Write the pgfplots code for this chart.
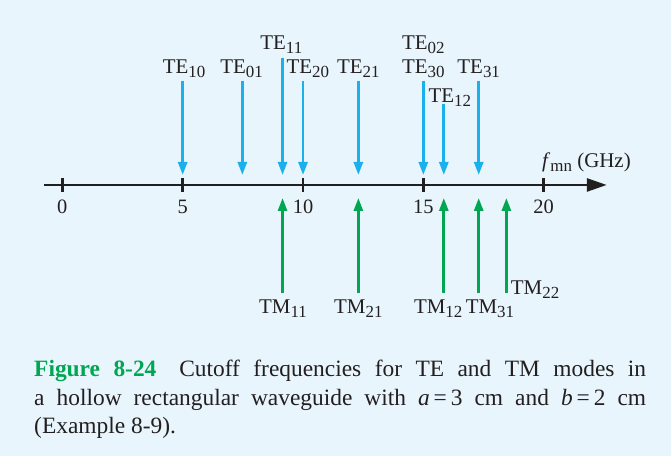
\documentclass[border=0pt]{standalone}
\usepackage{fontspec}
\setmainfont{Liberation Serif}
\usepackage{pgfplots}
\pgfplotsset{compat=1.18}
\usetikzlibrary{arrows.meta}
\definecolor{bgblue}{HTML}{E8F5FC}
\definecolor{teblue}{HTML}{1AAFED}
\definecolor{tmgreen}{HTML}{00A651}
\definecolor{axblack}{HTML}{231F20}
\newcommand\sub[1]{\raisebox{-4bp}{\fontsize{17}{17}\selectfont #1}}

\begin{document}
\begin{tikzpicture}
\begin{axis}[
  x=24.07bp, y=1bp,
  xmin=-2.59, xmax=25.29, ymin=-271, ymax=185,
  axis lines=none, clip=false, scale only axis,
  axis background/.style={fill=bgblue},
  xtick=\empty, ytick=\empty,
  lbl/.style={mark=none, draw=none, nodes near coords, point meta=explicit symbolic,
    nodes near coords style={anchor=base, inner sep=0pt, text=axblack, font=\fontsize{21}{21}\selectfont}},
]
% frequency axis
\addplot[axblack, line width=2.8bp, -{Triangle[length=20bp,width=13bp]}]
  coordinates {(-0.76,0) (22.62,0)};
\addplot[axblack, line width=2.6bp, mark=|, mark size=7bp, only marks]
  coordinates {(0,0) (5,0) (10,0) (15,0) (20,0)};
\addplot[mark=none, draw=none, nodes near coords, point meta=explicit symbolic,
  nodes near coords style={anchor=base, inner sep=0pt, text=axblack, font=\fontsize{20.5}{20.5}\selectfont}]
  table[meta=lab] {
x y lab
0 -29 0
5 -29 5
10 -29 10
15 -29 15
20 -29 20
};

% TE modes (down)
\addplot[teblue, line width=2.7bp, quiver={u=0, v=\thisrow{v}},
  -{Triangle[length=13bp,width=9bp]}] table {
x y v
5 104 -94
7.48 104 -94
9.15 127 -117
10 104 -94
12.3 104 -94
15 104 -94
15.85 81 -71
17.3 104 -94
};
% TM modes (up)
\addplot[tmgreen, line width=2.7bp, quiver={u=0, v=\thisrow{v}},
  -{Triangle[length=13bp,width=9bp]}] table {
x y v
9.15 -108 95
12.3 -108 95
15.85 -108 95
17.3 -108 95
18.45 -108 95
};

% labels
\addplot[lbl, nodes near coords={TE\sub{\pgfplotspointmeta}}] table[meta=lab] {
x y lab
5.06 111 10
7.45 111 01
10.2 111 20
12.3 111 21
15.0 111 30
17.3 111 31
9.1 135.5 11
15.0 135.5 02
16.1 82 12
};
\addplot[lbl, nodes near coords={TM\sub{\pgfplotspointmeta}}] table[meta=lab] {
x y lab
9.17 -129 11
12.3 -129 21
15.62 -129 12
17.77 -129 31
};
\addplot[lbl, nodes near coords={TM\sub{\pgfplotspointmeta}},
  nodes near coords style={anchor=base west}] table[meta=lab] {
x y lab
18.63 -110 22
};
\node[anchor=base west, inner sep=0pt, text=axblack, font=\fontsize{21}{21}\selectfont]
  at (axis cs:19.93,17) {\textit{f}\sub{mn} (GHz)};

% caption
\node[anchor=base west, inner sep=0pt, text width=612bp, align=justify, text=axblack,
  font=\fontsize{23.5}{28.3}\selectfont] at (axis cs:-1.177,-192)
  {{\color{tmgreen}\bfseries Figure 8-24}\hspace{0.4em} Cutoff frequencies for TE and TM modes in\linebreak
   a hollow rectangular waveguide with \textit{a}\,=\,3 cm and \textit{b}\,=\,2 cm\linebreak
   (Example 8-9).};
\end{axis}
\end{tikzpicture}
\end{document}
